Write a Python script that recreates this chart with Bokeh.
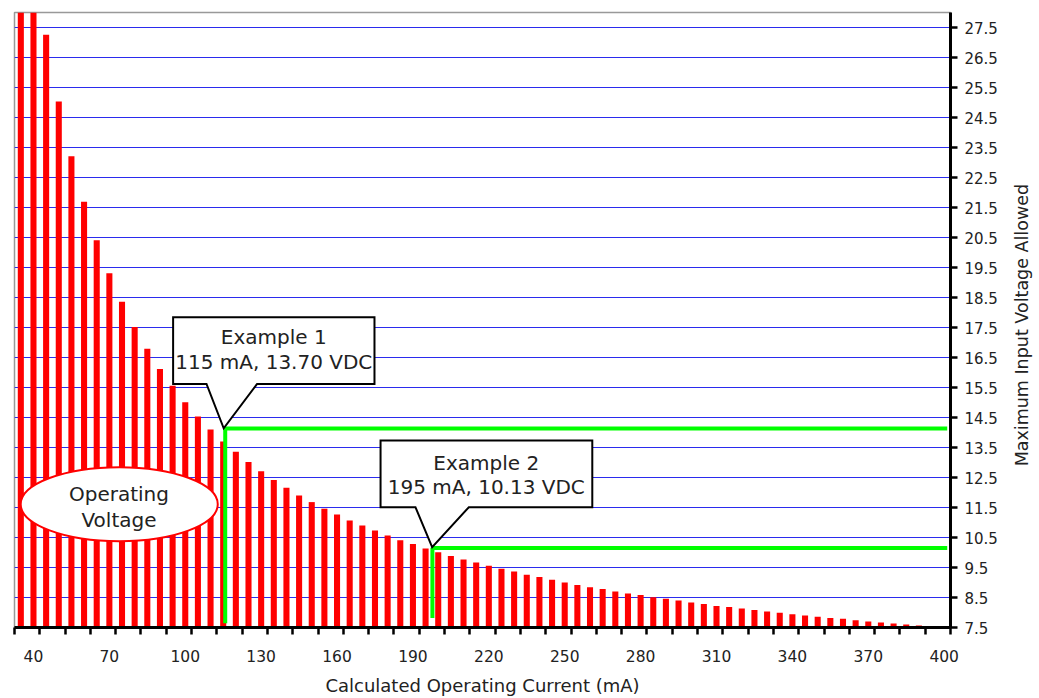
import math
from bokeh.plotting import figure
from bokeh.layouts import row
from bokeh.models import FixedTicker, Range1d
from bokeh.core.properties import value
from bokeh.embed import file_html
from bokeh.resources import INLINE

# ---------------- data ----------------
current_ma = [35, 40, 45, 50, 55, 60, 65, 70, 75, 80, 85, 90, 95, 100, 105, 110, 115, 120,
              125, 130, 135, 140, 145, 150, 155, 160, 165, 170, 175, 180, 185, 190, 195, 200,
              205, 210, 215, 220, 225, 230, 235, 240, 245, 250, 255, 260, 265, 270, 275, 280,
              285, 290, 295, 300, 305, 310, 315, 320, 325, 330, 335, 340, 345, 350, 355, 360,
              365, 370, 375, 380, 385, 390, 395, 400]
max_voltage = [33.6, 30.0, 27.26, 25.03, 23.21, 21.69, 20.41, 19.31, 18.36, 17.52, 16.79, 16.12,
               15.56, 15.01, 14.53, 14.10, 13.70, 13.36, 13.02, 12.71, 12.42, 12.16, 11.90, 11.68,
               11.46, 11.27, 11.07, 10.90, 10.73, 10.57, 10.41, 10.28, 10.13, 10.01, 9.88, 9.77,
               9.67, 9.56, 9.46, 9.37, 9.26, 9.18, 9.09, 9.00, 8.92, 8.84, 8.78, 8.70, 8.63, 8.58,
               8.51, 8.46, 8.40, 8.33, 8.28, 8.22, 8.18, 8.13, 8.08, 8.03, 7.99, 7.94, 7.90, 7.86,
               7.82, 7.79, 7.74, 7.70, 7.67, 7.63, 7.60, 7.57, 7.54, 7.51]
x_tick_labels = [40, 70, 100, 130, 160, 190, 220, 250, 280, 310, 340, 370, 400]
x_tick_marks = [32.5 + 10 * i for i in range(38)]
y_ticks = [7.5 + i for i in range(21)]

example_currents = [115, 195]
example_voltages = ["13.70", "10.13"]

FONT = "DejaVu Sans"
TXT = "#222222"

p = figure(width=1003, height=698, output_backend="svg", toolbar_location=None,
           x_range=Range1d(32.5, 402.5), y_range=Range1d(7.5, 28.0),
           y_axis_location="right",
           min_border_left=14, min_border_top=12, min_border_right=53, min_border_bottom=71)
p.outline_line_color = "#999999"
p.outline_line_width = 1.5
p.background_fill_color = "white"
p.border_fill_color = "white"

# bars
p.vbar(x=current_ma, top=max_voltage, bottom=7.5, width=2.4,
       fill_color="#ff0000", line_color=None)

# green operating lines (annotation)
g1x = [115.8, 115.8, 401.2]
g1y = [7.64, 14.13, 14.13]
g2x = [197.7, 197.7, 401.2]
g2y = [7.82, 10.15, 10.15]
p.line(g1x, g1y, line_color="#00ff00", line_width=4)
p.line(g2x, g2y, line_color="#00ff00", line_width=4)

# callouts
c1x = [95.2, 174.8, 174.8, 128.4, 115.2, 108.4, 95.2]
c1y = [17.84, 17.84, 15.62, 15.62, 14.14, 15.62, 15.62]
c2x = [177.2, 260.9, 260.9, 212.1, 197.6, 191.0, 177.2]
c2y = [13.73, 13.73, 11.51, 11.51, 10.18, 11.51, 11.51]
for cx, cy in ((c1x, c1y), (c2x, c2y)):
    p.patch(cx, cy, fill_color="white", line_color="black", line_width=2, line_join="miter")

p.text(x=[135.0, 135.0, 219.0, 219.0], y=[17.18, 16.34, 13.0, 12.17],
       text=["Example 1", f"{example_currents[0]} mA, {example_voltages[0]} VDC",
             "Example 2", f"{example_currents[1]} mA, {example_voltages[1]} VDC"],
       text_font=value(FONT), text_font_size="20px", text_color=TXT,
       text_align="center", text_baseline="middle")

# ellipse
p.ellipse(x=[73.9], y=[11.61], width=77.9, height=2.47,
          fill_color="white", line_color="#ff0000", line_width=2)
p.text(x=[73.8, 73.8], y=[11.96, 11.10], text=["Operating", "Voltage"],
       text_font=value(FONT), text_font_size="20px", text_color=TXT,
       text_align="center", text_baseline="middle")

# axes
p.xgrid.visible = False
xa = p.xaxis[0]
xa.ticker = FixedTicker(ticks=x_tick_labels, minor_ticks=x_tick_marks)
xa.major_tick_out = 0
xa.major_tick_in = 0
xa.minor_tick_out = 7
xa.minor_tick_in = 0
xa.minor_tick_line_color = "black"
xa.minor_tick_line_width = 2.5
xa.axis_line_color = "black"
xa.axis_line_width = 3
xa.major_label_standoff = 15
xa.major_label_text_font = FONT
xa.major_label_text_font_size = "15.5px"
xa.major_label_text_color = TXT
xa.axis_label = "Calculated Operating Current (mA)"
xa.axis_label_text_font = FONT
xa.axis_label_text_font_size = "18px"
xa.axis_label_text_font_style = "normal"
xa.axis_label_text_color = TXT
xa.axis_label_standoff = 10

ya = p.yaxis[0]
ya.ticker = FixedTicker(ticks=y_ticks)
ya.major_tick_out = 7
ya.major_tick_in = 0
ya.minor_tick_out = 0
ya.minor_tick_in = 0
ya.major_tick_line_color = "black"
ya.major_tick_line_width = 2.5
ya.axis_line_color = "black"
ya.axis_line_width = 3
ya.major_label_standoff = 7
ya.major_label_text_font = FONT
ya.major_label_text_font_size = "15px"
ya.major_label_text_color = TXT

p.ygrid.ticker = FixedTicker(ticks=y_ticks)
p.ygrid.grid_line_color = "#2b2bee"
p.ygrid.grid_line_width = 1

# narrow strip holding the right-hand axis title (reads bottom to top)
t = figure(width=36, height=698, output_backend="svg", toolbar_location=None,
           x_range=Range1d(0, 1), y_range=p.y_range,
           min_border_left=0, min_border_right=0, min_border_top=12, min_border_bottom=71)
t.axis.visible = False
t.grid.visible = False
t.outline_line_color = None
t.background_fill_color = "white"
t.border_fill_color = "white"
t.text(x=[0.5], y=[17.58], text=["Maximum Input Voltage Allowed"], angle=math.pi / 2,
       text_font=value(FONT), text_font_size="17.5px", text_color=TXT,
       text_align="center", text_baseline="middle")

layout = row(p, t, spacing=0)
open("out.html", "w").write(file_html(layout, INLINE))
